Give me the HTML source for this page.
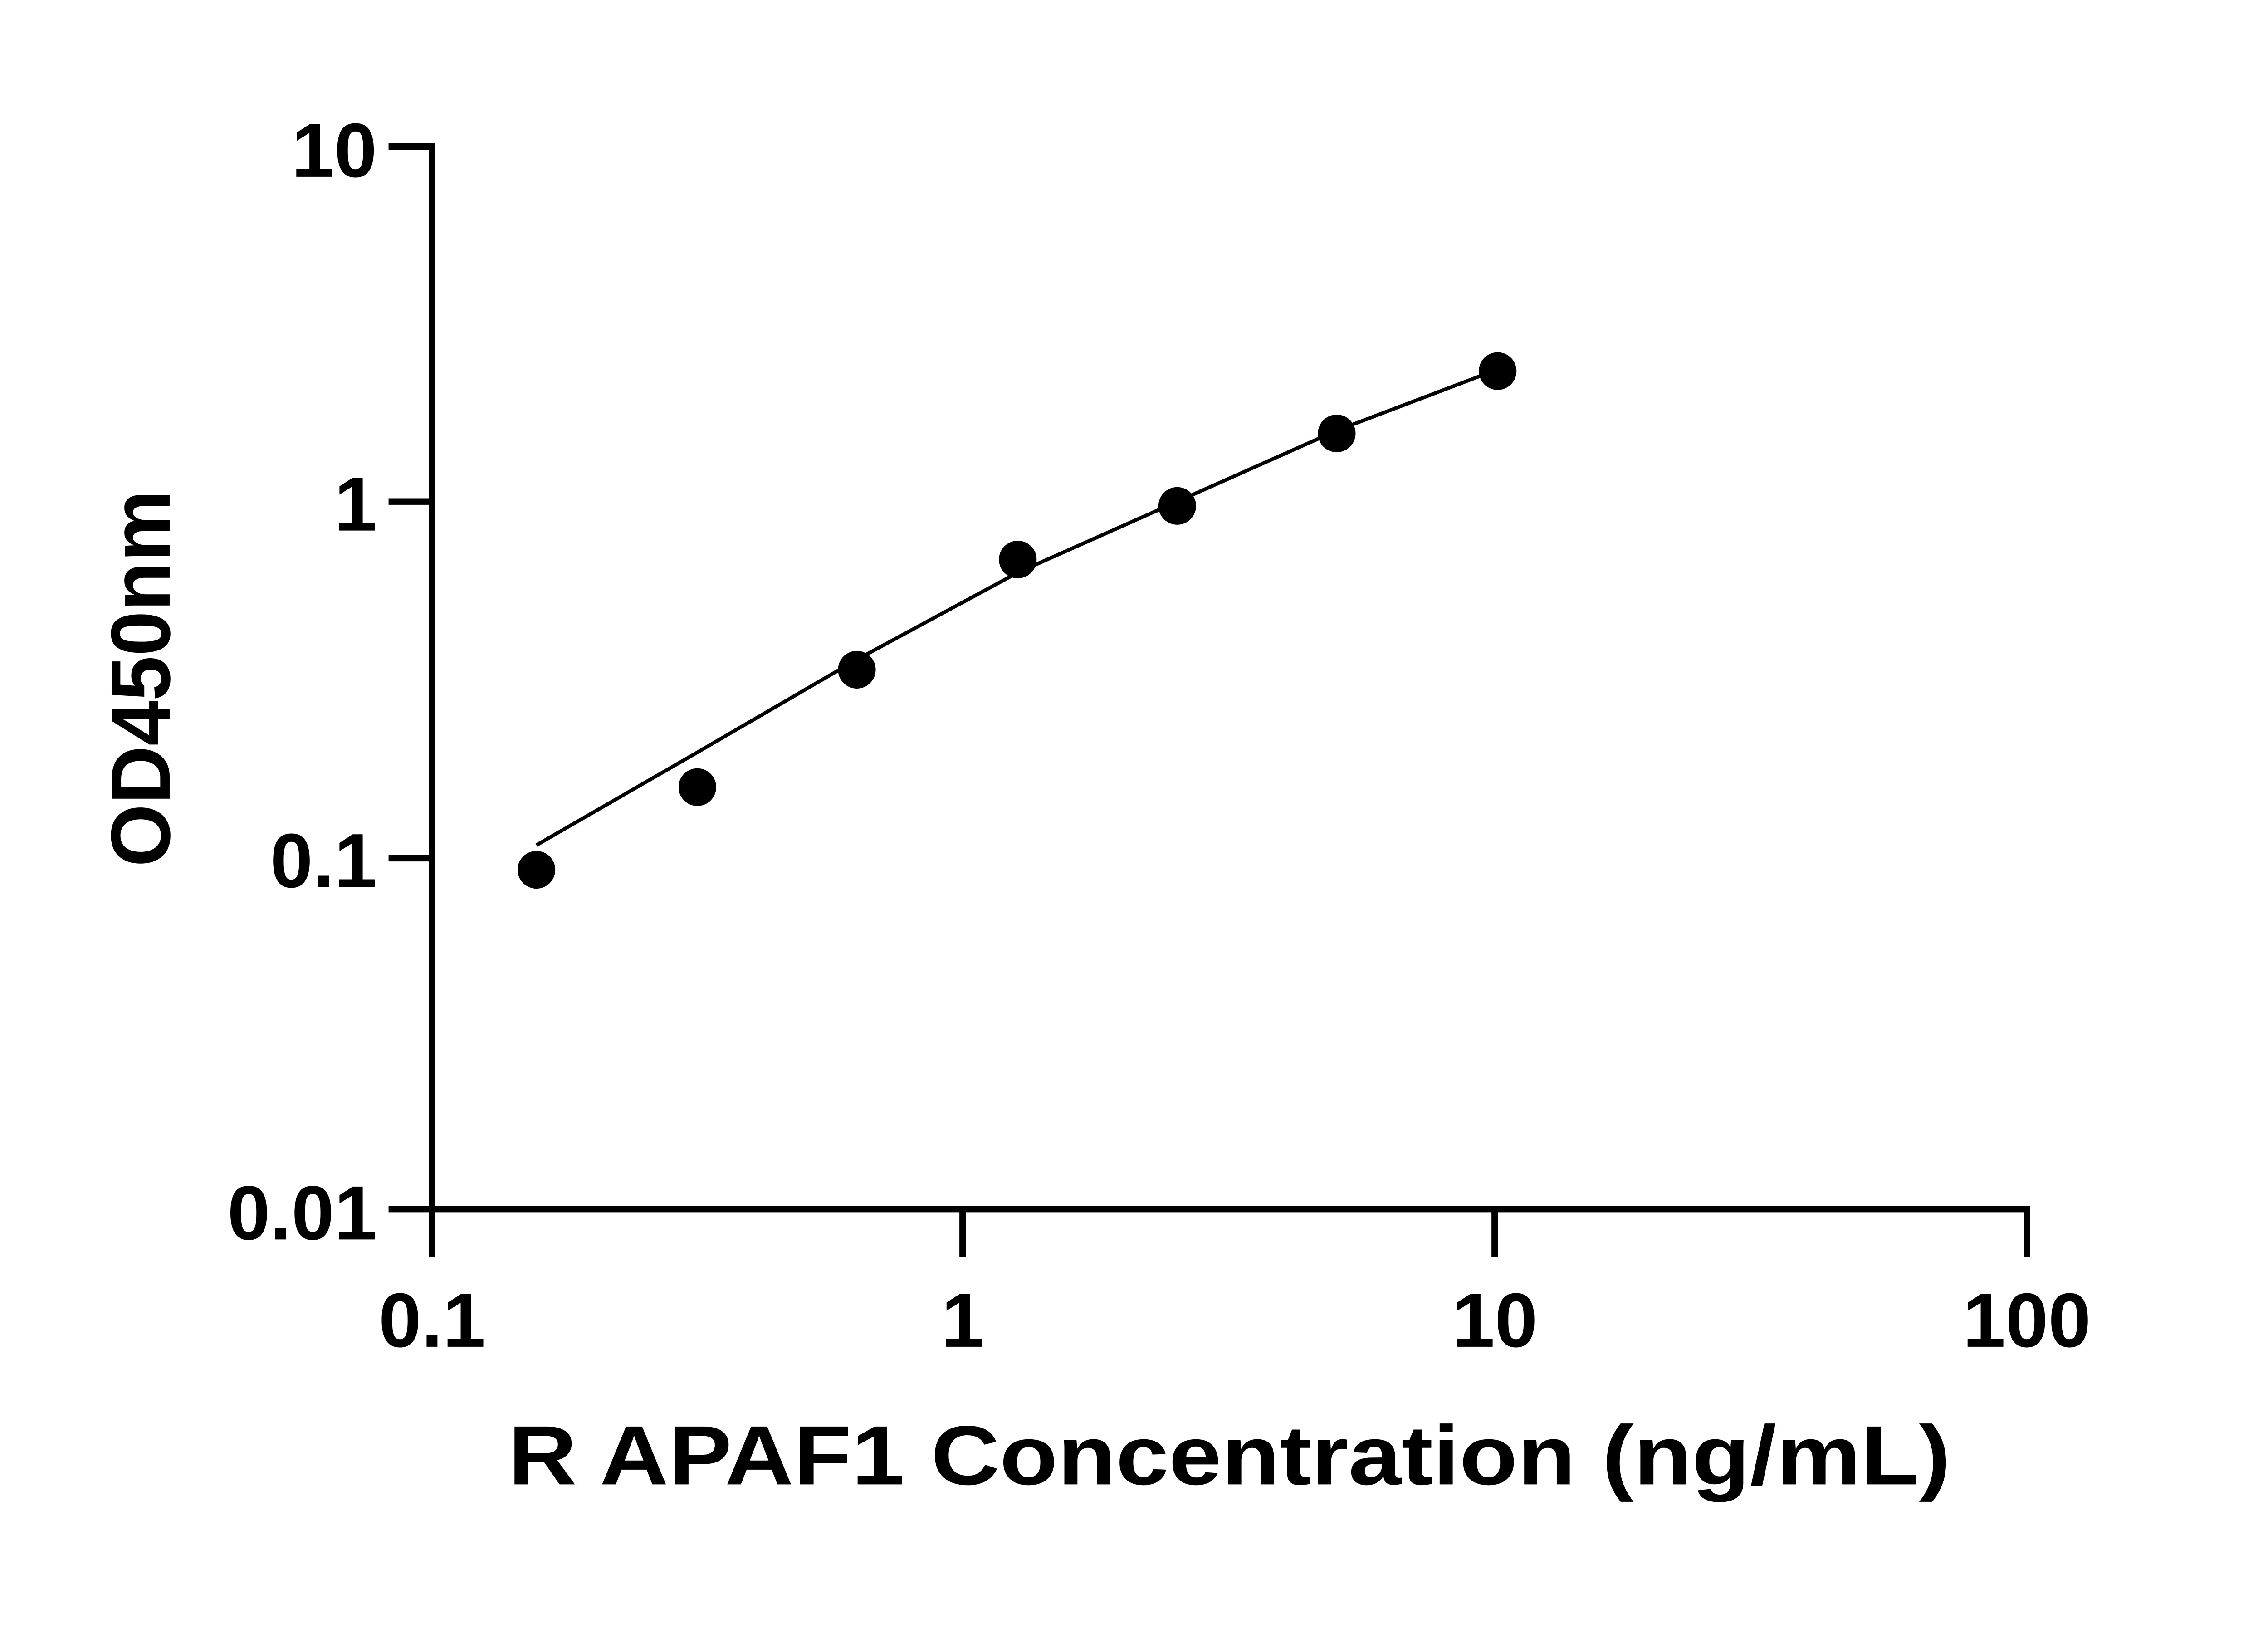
<!DOCTYPE html>
<html><head><meta charset="utf-8"><style>html,body{margin:0;padding:0;background:#fff}svg{display:block}</style></head>
<body>
<svg xmlns="http://www.w3.org/2000/svg" width="5130" height="3600" viewBox="0 0 1605 1126.5" preserveAspectRatio="none">
<rect width="1605" height="1127" fill="#fff"/>
<g stroke="#000" stroke-width="4.5" fill="none" stroke-linecap="butt">
<line x1="298" y1="99" x2="298" y2="867"/>
<line x1="296" y1="834" x2="1400" y2="834"/>
<line x1="268" y1="101" x2="300" y2="101"/>
<line x1="268" y1="346" x2="300" y2="346"/>
<line x1="268" y1="592" x2="300" y2="592"/>
<line x1="268" y1="834" x2="300" y2="834"/>
<line x1="664" y1="832" x2="664" y2="867"/>
<line x1="1031" y1="832" x2="1031" y2="867"/>
<line x1="1398" y1="832" x2="1398" y2="867"/>
</g>
<path d="M370,583 L481,519 L591,455 L702,395 L812,346 L922,297 L1022,259" stroke="#000" stroke-width="2.5" fill="none"/>
<g fill="#000">
<circle cx="370" cy="600" r="13"/>
<circle cx="481" cy="543" r="13"/>
<circle cx="591" cy="462" r="13"/>
<circle cx="702" cy="386" r="13"/>
<circle cx="812" cy="349" r="13"/>
<circle cx="922" cy="299" r="13"/>
<circle cx="1033" cy="256" r="13"/>
</g>
<g font-family="Liberation Sans, sans-serif" font-weight="bold" font-size="53" fill="#000">
<text x="260" y="122" text-anchor="end">10</text>
<text x="260" y="366" text-anchor="end">1</text>
<text x="260" y="612" text-anchor="end">0.1</text>
<text x="260" y="855" text-anchor="end">0.01</text>
<text x="298" y="929" text-anchor="middle">0.1</text>
<text x="664" y="929" text-anchor="middle">1</text>
<text x="1031" y="929" text-anchor="middle">10</text>
<text x="1398" y="929" text-anchor="middle">100</text>
</g>
<text x="848" y="1024" text-anchor="middle" font-family="Liberation Sans, sans-serif" font-weight="bold" font-size="58" textLength="995" lengthAdjust="spacingAndGlyphs">R APAF1 Concentration (ng/mL)</text>
<text transform="translate(117,468) rotate(-90)" text-anchor="middle" font-family="Liberation Sans, sans-serif" font-weight="bold" font-size="58" textLength="260" lengthAdjust="spacingAndGlyphs">OD450nm</text>
</svg>
</body></html>
